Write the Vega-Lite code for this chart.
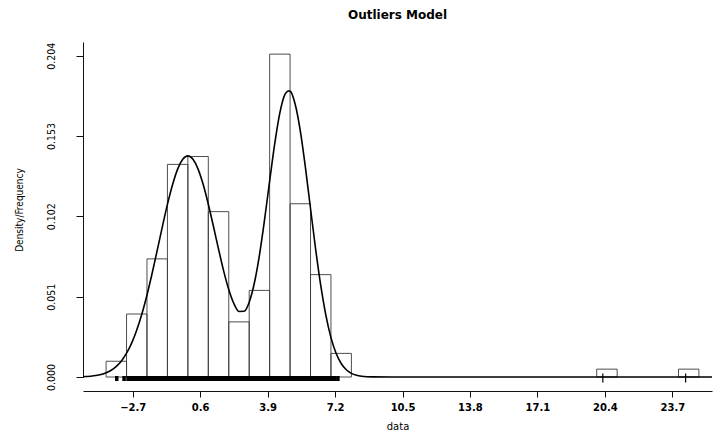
{
  "$schema": "https://vega.github.io/schema/vega-lite/v6.json",
  "width": 629,
  "height": 335,
  "autosize": "none",
  "padding": {"left": 83, "top": 42, "right": 3, "bottom": 60},
  "background": "white",
  "title": {
    "text": "Outliers Model",
    "font": "DejaVu Sans",
    "fontSize": 12,
    "fontWeight": "bold",
    "color": "#000",
    "anchor": "middle",
    "offset": 20
  },
  "config": {
    "view": {"stroke": null},
    "axis": {"grid": false, "domainColor": "#111", "tickColor": "#111", "labelColor": "#000", "titleColor": "#000"}
  },
  "datasets": {
    "bins": [
      {"bin_start": -4, "bin_end": -3, "count": 2, "density": 0.010},
      {"bin_start": -3, "bin_end": -2, "count": 8, "density": 0.040},
      {"bin_start": -2, "bin_end": -1, "count": 15, "density": 0.075},
      {"bin_start": -1, "bin_end": 0, "count": 27, "density": 0.135},
      {"bin_start": 0, "bin_end": 1, "count": 28, "density": 0.140},
      {"bin_start": 1, "bin_end": 2, "count": 21, "density": 0.105},
      {"bin_start": 2, "bin_end": 3, "count": 7, "density": 0.035},
      {"bin_start": 3, "bin_end": 4, "count": 11, "density": 0.055},
      {"bin_start": 4, "bin_end": 5, "count": 41, "density": 0.205},
      {"bin_start": 5, "bin_end": 6, "count": 22, "density": 0.110},
      {"bin_start": 6, "bin_end": 7, "count": 13, "density": 0.065},
      {"bin_start": 7, "bin_end": 8, "count": 3, "density": 0.015},
      {"bin_start": 20, "bin_end": 21, "count": 1, "density": 0.005},
      {"bin_start": 24, "bin_end": 25, "count": 1, "density": 0.005}
    ],
    "curve": [
      {"x": -5.13, "density": 0.0002}, {"x": -5, "density": 0.0003}, {"x": -4.75, "density": 0.0005},
      {"x": -4.5, "density": 0.0009}, {"x": -4.25, "density": 0.0016}, {"x": -4, "density": 0.0027},
      {"x": -3.75, "density": 0.0043}, {"x": -3.5, "density": 0.0067}, {"x": -3.25, "density": 0.0102},
      {"x": -3, "density": 0.0151}, {"x": -2.75, "density": 0.0215}, {"x": -2.5, "density": 0.0298},
      {"x": -2.25, "density": 0.0400}, {"x": -2, "density": 0.0521}, {"x": -1.75, "density": 0.0657},
      {"x": -1.5, "density": 0.0804}, {"x": -1.25, "density": 0.0953}, {"x": -1, "density": 0.1096},
      {"x": -0.75, "density": 0.1221}, {"x": -0.5, "density": 0.1320}, {"x": -0.25, "density": 0.1382},
      {"x": 0, "density": 0.1404}, {"x": 0.25, "density": 0.1382}, {"x": 0.5, "density": 0.1320},
      {"x": 0.75, "density": 0.1222}, {"x": 1, "density": 0.1097}, {"x": 1.25, "density": 0.0957},
      {"x": 1.5, "density": 0.0812}, {"x": 1.75, "density": 0.0674}, {"x": 2, "density": 0.0555},
      {"x": 2.25, "density": 0.0466}, {"x": 2.5, "density": 0.0416}, {"x": 2.75, "density": 0.0417},
      {"x": 3, "density": 0.0475}, {"x": 3.25, "density": 0.0595}, {"x": 3.5, "density": 0.0773},
      {"x": 3.75, "density": 0.0997}, {"x": 4, "density": 0.1244}, {"x": 4.25, "density": 0.1482},
      {"x": 4.5, "density": 0.1677}, {"x": 4.75, "density": 0.1794}, {"x": 4.93, "density": 0.1816},
      {"x": 5, "density": 0.1815}, {"x": 5.25, "density": 0.1732}, {"x": 5.5, "density": 0.1563},
      {"x": 5.75, "density": 0.1331}, {"x": 6, "density": 0.1070}, {"x": 6.25, "density": 0.0812},
      {"x": 6.5, "density": 0.0581}, {"x": 6.75, "density": 0.0393}, {"x": 7, "density": 0.0250},
      {"x": 7.25, "density": 0.0151}, {"x": 7.5, "density": 0.0086}, {"x": 7.75, "density": 0.0046},
      {"x": 8, "density": 0.0023}, {"x": 8.25, "density": 0.0011}, {"x": 8.5, "density": 0.0005},
      {"x": 8.75, "density": 0.0002}, {"x": 9, "density": 0.0001}, {"x": 10, "density": 0},
      {"x": 14, "density": 0}, {"x": 18, "density": 0}, {"x": 22, "density": 0}, {"x": 25.64, "density": 0}
    ],
    "rug": [
      {"value": -3.48}, {"value": -3.12},
      {"value": -2.93}, {"value": -2.81}, {"value": -2.66}, {"value": -2.52}, {"value": -2.41}, {"value": -2.33}, {"value": -2.17}, {"value": -2.06},
      {"value": -1.97}, {"value": -1.91}, {"value": -1.83}, {"value": -1.76}, {"value": -1.70}, {"value": -1.62}, {"value": -1.55}, {"value": -1.49},
      {"value": -1.42}, {"value": -1.35}, {"value": -1.28}, {"value": -1.21}, {"value": -1.15}, {"value": -1.08}, {"value": -1.02},
      {"value": -0.98}, {"value": -0.95}, {"value": -0.91}, {"value": -0.87}, {"value": -0.84}, {"value": -0.80}, {"value": -0.77}, {"value": -0.73},
      {"value": -0.69}, {"value": -0.66}, {"value": -0.62}, {"value": -0.58}, {"value": -0.55}, {"value": -0.51}, {"value": -0.48}, {"value": -0.44},
      {"value": -0.40}, {"value": -0.37}, {"value": -0.33}, {"value": -0.29}, {"value": -0.26}, {"value": -0.22}, {"value": -0.18}, {"value": -0.15},
      {"value": -0.11}, {"value": -0.07}, {"value": -0.03},
      {"value": 0.02}, {"value": 0.05}, {"value": 0.09}, {"value": 0.12}, {"value": 0.16}, {"value": 0.19}, {"value": 0.23}, {"value": 0.27},
      {"value": 0.30}, {"value": 0.34}, {"value": 0.37}, {"value": 0.41}, {"value": 0.45}, {"value": 0.48}, {"value": 0.52}, {"value": 0.55},
      {"value": 0.59}, {"value": 0.62}, {"value": 0.66}, {"value": 0.70}, {"value": 0.73}, {"value": 0.77}, {"value": 0.80}, {"value": 0.84},
      {"value": 0.88}, {"value": 0.91}, {"value": 0.95}, {"value": 0.98},
      {"value": 1.03}, {"value": 1.08}, {"value": 1.13}, {"value": 1.17}, {"value": 1.22}, {"value": 1.27}, {"value": 1.32}, {"value": 1.36},
      {"value": 1.41}, {"value": 1.46}, {"value": 1.51}, {"value": 1.55}, {"value": 1.60}, {"value": 1.65}, {"value": 1.70}, {"value": 1.74},
      {"value": 1.79}, {"value": 1.84}, {"value": 1.89}, {"value": 1.93}, {"value": 1.98},
      {"value": 2.06}, {"value": 2.19}, {"value": 2.34}, {"value": 2.48}, {"value": 2.63}, {"value": 2.77}, {"value": 2.91},
      {"value": 3.04}, {"value": 3.13}, {"value": 3.22}, {"value": 3.31}, {"value": 3.40}, {"value": 3.50}, {"value": 3.59}, {"value": 3.68},
      {"value": 3.77}, {"value": 3.86}, {"value": 3.95},
      {"value": 4.01}, {"value": 4.03}, {"value": 4.06}, {"value": 4.08}, {"value": 4.11}, {"value": 4.13}, {"value": 4.16}, {"value": 4.18},
      {"value": 4.21}, {"value": 4.23}, {"value": 4.26}, {"value": 4.28}, {"value": 4.31}, {"value": 4.33}, {"value": 4.36}, {"value": 4.38},
      {"value": 4.41}, {"value": 4.43}, {"value": 4.46}, {"value": 4.48}, {"value": 4.51}, {"value": 4.53}, {"value": 4.56}, {"value": 4.58},
      {"value": 4.61}, {"value": 4.63}, {"value": 4.66}, {"value": 4.68}, {"value": 4.71}, {"value": 4.73}, {"value": 4.76}, {"value": 4.78},
      {"value": 4.81}, {"value": 4.83}, {"value": 4.86}, {"value": 4.88}, {"value": 4.91}, {"value": 4.93}, {"value": 4.95}, {"value": 4.97},
      {"value": 4.99},
      {"value": 5.02}, {"value": 5.07}, {"value": 5.11}, {"value": 5.16}, {"value": 5.20}, {"value": 5.25}, {"value": 5.29}, {"value": 5.34},
      {"value": 5.38}, {"value": 5.43}, {"value": 5.47}, {"value": 5.52}, {"value": 5.56}, {"value": 5.61}, {"value": 5.65}, {"value": 5.70},
      {"value": 5.74}, {"value": 5.79}, {"value": 5.83}, {"value": 5.88}, {"value": 5.92}, {"value": 5.97},
      {"value": 6.04}, {"value": 6.11}, {"value": 6.19}, {"value": 6.26}, {"value": 6.34}, {"value": 6.41}, {"value": 6.49}, {"value": 6.56},
      {"value": 6.64}, {"value": 6.71}, {"value": 6.79}, {"value": 6.86}, {"value": 6.94},
      {"value": 7.06}, {"value": 7.19}, {"value": 7.34},
      {"value": 20.3}, {"value": 24.35}
    ]
  },
  "layer": [
    {
      "data": {"name": "bins"},
      "mark": {"type": "rect", "fill": null, "fillOpacity": 0, "stroke": "#3a3a3a", "strokeWidth": 0.9},
      "encoding": {
        "x": {
          "field": "bin_start", "type": "quantitative",
          "scale": {"domain": [-5.13, 25.64], "nice": false, "zero": false},
          "axis": {
            "values": [-2.7, 0.6, 3.9, 7.2, 10.5, 13.8, 17.1, 20.4, 23.7],
            "format": ".1f",
            "offset": 14,
            "tickSize": 6,
            "labelPadding": 5,
            "labelFont": "DejaVu Sans",
            "labelFontSize": 10,
            "labelFontWeight": "bold",
            "title": "data",
            "titleFont": "DejaVu Sans",
            "titleFontSize": 10,
            "titleFontWeight": "normal",
            "titlePadding": 9
          }
        },
        "x2": {"field": "bin_end"},
        "y": {
          "field": "density", "type": "quantitative",
          "scale": {"domain": [0, 0.2127], "nice": false, "zero": true},
          "axis": {
            "values": [0, 0.051, 0.102, 0.153, 0.204],
            "format": ".3f",
            "tickSize": 7,
            "labelAngle": -90,
            "labelAlign": "center",
            "labelBaseline": "bottom",
            "labelPadding": 20,
            "labelFont": "DejaVu Sans Condensed, Liberation Sans",
            "labelFontSize": 10.5,
            "title": "Density/Frequency",
            "titleFont": "DejaVu Sans Condensed, Liberation Sans",
            "titleFontSize": 10,
            "titleFontWeight": "normal",
            "titlePadding": 22
          }
        },
        "y2": {"datum": 0}
      }
    },
    {
      "data": {"name": "curve"},
      "mark": {"type": "line", "color": "#000", "strokeWidth": 1.6, "interpolate": "monotone"},
      "encoding": {
        "x": {"field": "x", "type": "quantitative"},
        "y": {"field": "density", "type": "quantitative"}
      }
    },
    {
      "data": {"name": "rug"},
      "transform": [{"filter": "datum.value < 10"}],
      "mark": {"type": "tick", "orient": "vertical", "color": "#000", "opacity": 1, "size": 5, "thickness": 3.5, "yOffset": 1.5},
      "encoding": {
        "x": {"field": "value", "type": "quantitative"},
        "y": {"datum": 0, "type": "quantitative"}
      }
    },
    {
      "data": {"name": "rug"},
      "transform": [{"filter": "datum.value >= 10"}],
      "mark": {"type": "tick", "orient": "vertical", "color": "#000", "opacity": 1, "size": 9, "thickness": 1.2, "yOffset": 1},
      "encoding": {
        "x": {"field": "value", "type": "quantitative"},
        "y": {"datum": 0, "type": "quantitative"}
      }
    }
  ]
}
